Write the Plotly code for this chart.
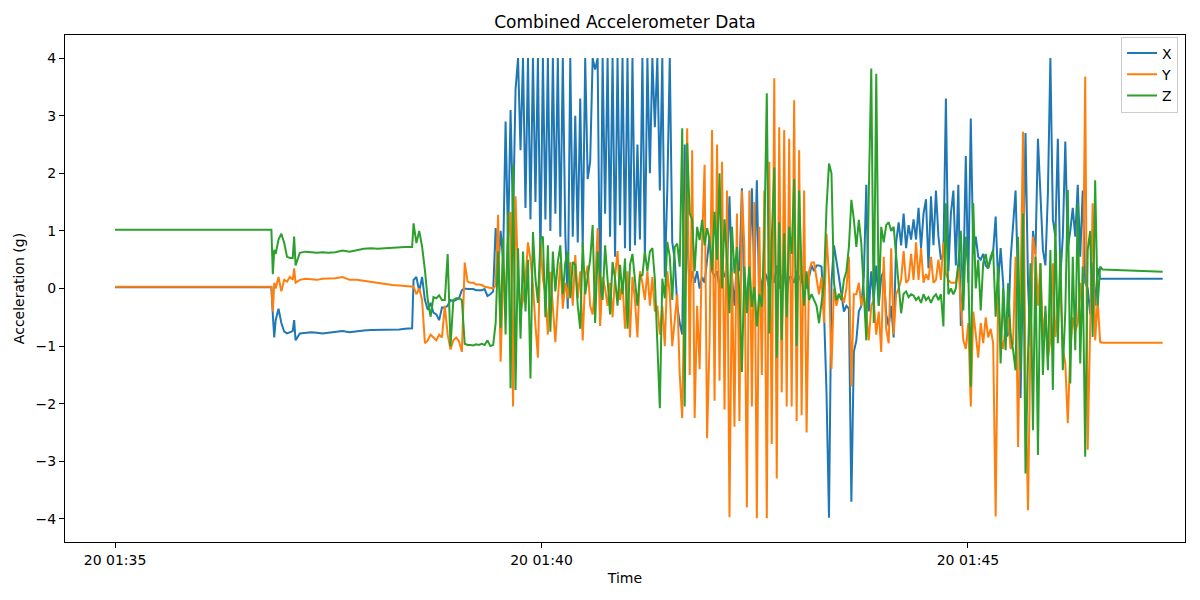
import pandas as pd
import plotly.graph_objects as go

# ---------------- data (seconds after 01:35:00 on day 20) ----------------
START = "2024-05-20 01:35:00"

# resting + first hold
t_early = [0, 110, 111, 112, 113, 115, 117, 119, 121, 123, 125, 126, 127, 130, 134, 138, 142,
           146, 150, 155, 160, 165, 170, 175, 180, 185, 190, 195, 200, 204, 207, 209]
x_early = [0.02, 0.02, -0.45, -0.85, -0.55, -0.35, -0.6, -0.75, -0.78, -0.76, -0.74, -0.55, -0.9,
           -0.78, -0.77, -0.76, -0.77, -0.78, -0.77, -0.75, -0.74, -0.76, -0.74, -0.73, -0.72,
           -0.72, -0.72, -0.72, -0.71, -0.70, -0.70, -0.69]
y_early = [0.03, 0.03, -0.4, 0.1, 0.0, 0.2, -0.05, 0.15, 0.12, 0.2, 0.15, 0.35, 0.1, 0.15, 0.17,
           0.16, 0.15, 0.17, 0.17, 0.18, 0.2, 0.15, 0.15, 0.13, 0.12, 0.10, 0.08, 0.06, 0.05,
           0.04, 0.03, 0.02]
z_early = [1.02, 1.02, 0.25, 0.67, 0.6, 0.85, 0.95, 0.79, 0.55, 0.53, 0.53, 0.9, 0.4, 0.62, 0.64,
           0.63, 0.62, 0.63, 0.62, 0.63, 0.66, 0.64, 0.67, 0.69, 0.70, 0.69, 0.70, 0.71, 0.71,
           0.72, 0.72, 0.72]

# transition
t_mid = [210, 212, 214, 216, 218, 220, 222, 224, 226, 228, 230, 232, 234, 236, 238, 240, 242,
         244, 246, 248, 250, 252, 254, 256, 258, 260, 262, 264]
x_mid = [0.15, 0.2, -0.05, 0.2, -0.2, -0.37, -0.25, -0.42, -0.45, -0.55, -0.33, -0.33, -0.3,
         -0.2, -0.22, -0.2, -0.17, -0.03, 0.0, -0.01, -0.01, -0.01, -0.03, -0.03, -0.03, -0.01,
         -0.13, -0.1]
y_mid = [0.03, -0.1, 0.0, -0.2, -0.95, -0.9, -0.8, -0.85, -0.9, -0.8, -0.85, -0.3, -0.8, -1.06,
         -0.9, -0.85, -0.92, -1.1, 0.45, 0.12, 0.1, 0.1, 0.07, 0.07, 0.06, 0.03, 0.02, 0.0]
z_mid = [1.13, 0.79, 1.0, 0.73, 0.32, -0.2, -0.49, -0.15, -0.17, -0.12, -0.2, -0.2, 0.6, -1.0,
         -0.2, -0.17, -0.17, -0.2, -0.96, -0.98, -0.98, -0.99, -0.97, -0.98, -0.96, -0.98, -0.9,
         -1.0]

# active phase, sampled every 1.75 s from 266 s
DENSE_T0 = 266
DENSE_DT = 1.75
x_dense = [
    -0.05, 1.05, 0.3, 1.0, 0.5, 2.9, 0.8, 3.1, 1.2, 3.45,
    4.0, 2.4, 4.0, 1.4, 4.0, 1.2, 4.0, 1.5, 4.0, 0.5,
    4.0, 1.2, 4.0, 1.0, 4.0, 1.3, 4.0, 0.9, 4.0, 0.95,
    -0.35, 4.0, 0.9, 3.0, 0.8, 3.3, 0.7, 4.0, 1.9, 2.2,
    4.0, 3.8, 4.0, -0.55, 4.0, 1.3, 4.0, 0.9, 4.0, 0.55,
    4.0, 1.1, 4.0, 0.7, 4.0, 0.65, 4.0, 0.75, 2.5, 0.85,
    4.0, 0.5, 4.0, 2.0, 4.0, 2.8, 4.0, 1.7, 4.0, 0.2,
    1.7, 4.0, 0.8, 0.5, -0.3, -0.6, -0.8, 2.5, 0.9, 0.0,
    0.3, 0.1, 0.3, 0.0, 0.2, 0.1, 0.5, 0.9, 0.3, 0.2,
    0.3, 0.0, 0.4, 0.2, 0.3, 1.6, 0.2, -0.3, 0.5, 0.3,
    1.74, -0.3, -0.1, 0.3, 1.74, 0.15, 1.88, -0.3, 0.1, 0.3,
    0.2, 0.0, 0.3, 0.1, 0.4, 0.0, 0.2, 0.3, -0.1, 0.2,
    0.2, 0.1, 0.3, 0.2, 0.1, 0.3, 0.0, 0.2, 0.4, 0.3,
    0.4, 0.4, 0.38, -0.4, -1.8, -3.98, 0.1, 0.75, 0.5, 0.2,
    -0.1, -0.4, -0.3, -0.35, -3.7, -1.1, -0.9, -0.4, -0.3, 0.2,
    1.8, -0.4, 0.3, -0.2, 0.4, -0.3, 0.2, 0.3, -0.45, -0.65,
    -0.3, -0.85, 0.8, 1.15, 0.75, 1.3, 0.7, 1.1, 0.85, 1.2,
    0.85, 1.4, 0.7, 1.3, 1.55, 0.35, 1.6, 0.75, 1.7, 0.9,
    0.5, 0.6, 3.3, 0.3, 1.3, 1.7, 0.4, 1.8, -0.65, 0.1,
    2.3, 0.1, 2.95, 0.6, 0.9, 0.55, 0.5, 0.6, 0.4, 0.35,
    0.5, 0.65, 1.25, 0.1, 0.7, 0.1, -0.85, -0.8, 0.5, 1.1,
    1.7, 0.1, -1.9, 0.3, 2.7, 0.1, -1.0, 1.0, 0.6, 2.6,
    1.7, 0.67, 0.4, 1.65, 4.0, 1.2, 0.9, 2.6, 0.2, 0.9,
    2.55, 0.7, 1.0, 1.4, 0.9, 1.8, 0.55, 1.7, 0.1, 0.0,
    -0.45, 0.45, -0.3, 0.35, 0.17, 0.17,
]
y_dense = [
    0.0, 0.05, 1.28, -1.27, 0.2, -0.15, 0.87, 1.33, -2.05, 1.6,
    0.17, -0.4, -0.2, 0.17, 0.8, 0.5, 0.06, -0.64, -1.2, 0.8,
    0.17, -0.1, -0.8, 0.29, -0.4, -0.93, -0.2, 0.46, -0.35, 0.1,
    -0.17, 0.46, -0.3, 0.58, -0.17, 0.3, -0.9, 0.2, 0.4, -0.3,
    -0.45, 0.1, 1.05, -0.65, 0.2, 0.0, -0.3, 0.1, -0.5, 0.2,
    0.65, -0.2, 0.1, -0.7, 0.3, -0.85, 0.2, -0.2, -0.85, 0.3,
    0.1, -0.2, 0.3, -0.3, 0.2, -0.4, -0.3, -0.8, -0.3, -1.0,
    0.3, -0.1, -1.0, -0.6, -0.1, -1.5, -2.25, 0.5, 2.78, -1.5,
    2.4, -2.25, -0.3, -1.4, 0.8, 2.15, -2.6, -0.9, 2.75, -1.95,
    2.5, -1.6, 2.2, -2.1, 1.7, -3.97, 0.3, -2.4, 1.3, -2.3,
    1.7, 0.7, -3.8, 1.7, -2.05, 1.5, -3.99, 1.07, -1.5, 1.7,
    -3.99, 2.2, -2.7, 3.65, -3.3, 2.8, -1.8, 2.75, -2.05, 2.6,
    -2.05, 3.27, -2.3, 2.4, -2.2, 1.7, -2.5, 0.3, 0.45, 0.45,
    0.2, -0.1, 0.2, -0.6, 0.95, 0.2, -1.4, 0.0, -0.3, -0.1,
    -0.1, -0.25, 0.0, 0.55, -1.7, -0.1, -0.1, 0.1, -0.3, -0.1,
    -0.45, -0.9, -0.3, -0.2, -0.8, -0.4, -1.1, 0.55, -0.7, -0.95,
    0.7, -0.8, -0.1, 0.0, 0.15, 0.65, 0.1, 0.15, 0.6, 0.15,
    0.8, 0.15, 0.7, 0.1, 0.25, 0.15, 0.55, 0.1, 0.15, 0.5,
    0.15, 0.8, 0.25, 0.15, 0.1, 0.1, 0.1, 0.38, -0.35, -0.9,
    -1.05, -0.6, -2.05, -0.4, -0.8, -1.2, -0.6, -0.95, -0.5, -0.85,
    -0.7, -0.95, -3.96, -0.1, -0.85, -1.05, -0.65, -0.5, -1.05, -0.95,
    0.55, -2.75, -0.1, 2.72, -1.6, -3.85, -0.9, 0.9, 0.6, -0.3,
    0.44, -0.84, -0.4, -1.2, -0.9, 0.44, -0.84, -0.4, 0.1, -1.05,
    -1.3, -2.34, -1.1, -0.5, -0.75, -0.6, 0.1, -0.5, 3.68, -2.8,
    -0.6, 1.48, -0.9, -0.2, -0.93, -0.94,
]
z_dense = [
    -0.98, -0.6, 0.64, -0.69, 0.87, -0.8, 1.33, -1.73, 2.14, -1.76,
    0.7, -0.87, 0.64, -0.4, 0.5, -1.56, 0.98, 0.17, -0.25, 0.87,
    0.9, -0.5, 0.75, -0.75, 0.64, -0.05, 0.46, 0.75, -0.1, 0.45,
    0.64, -0.17, 0.46, 0.41, -0.3, -0.7, 0.8, -0.1, 0.2, 0.5,
    1.1, -0.6, 0.64, 0.17, -0.2, 0.75, 0.17, -0.45, 0.46, 0.17,
    -0.3, 0.41, -0.1, 0.52, -0.7, 0.41, 0.6, 0.17, -0.3, 0.23,
    0.23, 0.64, 0.3, 0.64, 0.7, 0.17, -0.98, -2.08, 0.17, -0.17,
    0.81, 0.55, -0.2, 0.72, 0.78, 0.38, 2.78, -2.05, 2.52, 1.3,
    1.2, 0.3, 1.07, 0.84, 1.19, 0.75, 1.05, 0.85, 0.32, 1.33,
    0.5, 2.0, 0.0, 1.2, 0.5, -0.43, 1.07, 0.26, 0.72, -0.1,
    -1.45, 0.38, -0.43, 0.38, -0.32, 0.03, -0.66, -0.1, -0.32, 0.84,
    3.39, -0.78, 0.84, 2.1, -1.2, 1.15, -0.9, 0.96, -0.5, 1.07,
    0.6, 1.9, -1.0, 1.7, 0.26, -0.3, 0.3, -0.2, -0.1, -0.2,
    -0.3, -0.6, -0.2, 0.1, 1.4, 2.17, 2.0, 0.1, -0.2, -0.1,
    -0.2, 0.15, 0.3, 0.72, 1.54, 1.2, 0.72, 1.19, 0.78, -0.2,
    -0.9, 1.65, 3.82, -0.6, 3.73, -0.3, 1.07, 0.8, 1.1, 1.15,
    1.0, 1.07, 0.6, 0.15, -0.43, -0.09, -0.05, -0.15, -0.1, -0.12,
    -0.2, -0.15, -0.25, -0.1, -0.2, -0.15, -0.25, -0.15, -0.1, -0.2,
    -0.1, -0.66, 1.48, -0.1, 0.0, -0.1, 0.0, 0.45, 1.0, -0.38,
    0.9, 0.3, -1.7, 1.48, 0.0, 0.5, -0.38, 0.45, 0.6, 0.35,
    0.55, 0.67, -0.49, 0.4, -1.3, 0.0, -1.07, 0.09, -0.78, -1.07,
    -1.42, 0.9, -1.42, 1.3, -3.21, -1.2, 0.44, -2.46, 0.55, -2.89,
    0.44, -1.5, -0.3, -1.42, 0.67, -1.76, 1.13, -0.95, 0.67, -1.42,
    -0.4, 1.71, -1.65, 0.55, -1.07, 1.48, -1.3, 0.38, -2.92, 0.67,
    1.0, -0.84, 1.88, -0.3, 0.38, 0.33,
]

# resting at the end
t_tail = [716, 737]
x_tail = [0.17, 0.17]
y_tail = [-0.94, -0.94]
z_tail = [0.31, 0.29]

x_tick_times = ["2024-05-20 01:35:00", "2024-05-20 01:40:00", "2024-05-20 01:45:00"]
x_tick_labels = ["20 01:35", "20 01:40", "20 01:45"]
series_names = ["X", "Y", "Z"]
series_colors = ["#1f77b4", "#ff7f0e", "#2ca02c"]

# ---------------- assemble ----------------
assert len(x_dense) == len(y_dense) == len(z_dense)
t_dense = [DENSE_T0 + DENSE_DT * i for i in range(len(x_dense))]
t_all = t_early + t_mid + t_dense + t_tail
times = pd.Timestamp(START) + pd.to_timedelta(t_all, unit="s")
vals = [
    x_early + x_mid + x_dense + x_tail,
    y_early + y_mid + y_dense + y_tail,
    z_early + z_mid + z_dense + z_tail,
]
for v in vals:
    assert len(v) == len(t_all), (len(v), len(t_all))

FONT = "DejaVu Sans"
FIG_W, FIG_H = 1184, 584   # page body adds an 8 px offset
fig = go.Figure()
for name, color, v in zip(series_names, series_colors, vals):
    fig.add_trace(go.Scatter(x=times, y=v, mode="lines", name=name,
                             line=dict(color=color, width=2)))

x_lo = pd.Timestamp(START) - pd.Timedelta(seconds=35.2)
x_hi = pd.Timestamp(START) + pd.Timedelta(seconds=752.7)

fig.update_layout(
    width=FIG_W, height=FIG_H,
    margin=dict(l=57, r=7, t=27, b=50),
    paper_bgcolor="white", plot_bgcolor="white",
    font=dict(family=FONT, size=14, color="black"),
    title=dict(text="Combined Accelerometer Data", x=0.5, xref="paper", xanchor="center",
               y=1 - 14 / FIG_H, yref="container", yanchor="middle",
               font=dict(family=FONT, size=17, color="black")),
    showlegend=True,
    legend=dict(x=0.9938, y=0.997, xanchor="right", yanchor="top",
                bgcolor="rgba(255,255,255,0.8)", bordercolor="#cccccc", borderwidth=1,
                font=dict(family=FONT, size=14), itemwidth=30, tracegroupgap=0),
)
fig.update_xaxes(
    range=[x_lo, x_hi], tickmode="array", tickvals=x_tick_times, ticktext=x_tick_labels,
    showgrid=False, zeroline=False, showline=True, mirror=True, linecolor="black", linewidth=1,
    ticks="outside", ticklen=5, tickwidth=1, tickcolor="black",
    title=dict(text="Time", standoff=6, font=dict(family=FONT, size=14)),
)
fig.update_yaxes(
    range=[-4.401, 4.401], tickmode="linear", tick0=0, dtick=1,
    showgrid=False, zeroline=False, showline=True, mirror=True, linecolor="black", linewidth=1,
    ticks="outside", ticklen=5, tickwidth=1, tickcolor="black",
    title=dict(text="Acceleration (g)", standoff=7, font=dict(family=FONT, size=14)),
)

fig.write_html("out.html")
